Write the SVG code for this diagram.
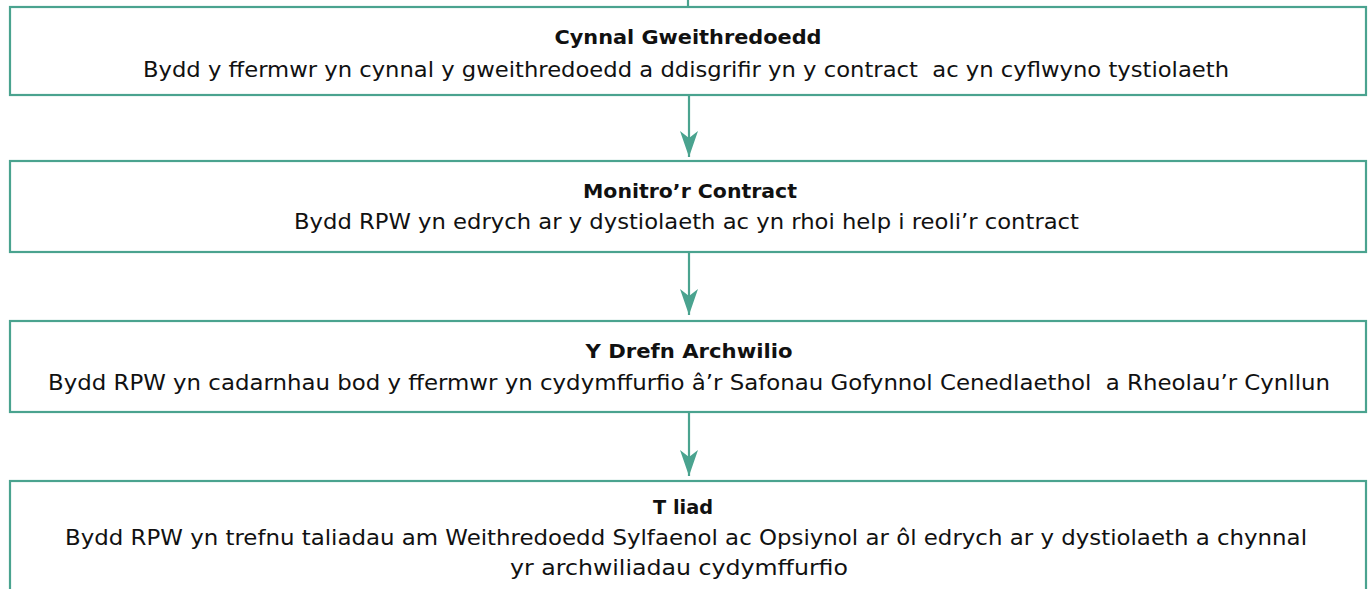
<svg xmlns="http://www.w3.org/2000/svg" width="1372" height="589" viewBox="0 0 1372 589">
  <style>
    .box { fill: #ffffff; stroke: #4aa38f; stroke-width: 2.2; }
    .conn { stroke: #4aa38f; stroke-width: 2.2; fill: none; }
    .title { font-family: "DejaVu Sans", "Liberation Sans", sans-serif; font-weight: bold; font-size: 20px; fill: #111111; text-anchor: middle; }
    .body { font-family: "DejaVu Sans", "Liberation Sans", sans-serif; font-size: 22px; fill: #111111; text-anchor: middle; white-space: pre; }
  </style>
  <defs>
    <marker id="arrow" markerUnits="userSpaceOnUse" viewBox="0 0 26 18" markerWidth="26" markerHeight="18" refX="26" refY="9" orient="auto">
      <path d="M0,0 L26,9 L0,18 L7,9 Z" fill="#4aa38f"/>
    </marker>
  </defs>
  <rect width="1372" height="589" fill="#ffffff"/>
  <g id="connectors">
    <line class="conn" x1="688" y1="0" x2="688" y2="7"/>
    <line class="conn" x1="689" y1="96" x2="689" y2="157" marker-end="url(#arrow)"/>
    <line class="conn" x1="689" y1="253" x2="689" y2="315" marker-end="url(#arrow)"/>
    <line class="conn" x1="689" y1="413" x2="689" y2="476" marker-end="url(#arrow)"/>
  </g>
  <g id="node1">
    <rect class="box" x="10" y="7" width="1356" height="88"/>
    <text class="title" x="688" y="44" textLength="267" lengthAdjust="spacingAndGlyphs">Cynnal Gweithredoedd</text>
    <text class="body" x="686" y="77" textLength="1086" lengthAdjust="spacingAndGlyphs" xml:space="preserve">Bydd y ffermwr yn cynnal y gweithredoedd a ddisgrifir yn y contract  ac yn cyflwyno tystiolaeth</text>
  </g>
  <g id="node2">
    <rect class="box" x="10" y="161" width="1356" height="91"/>
    <text class="title" x="690" y="198" textLength="214" lengthAdjust="spacingAndGlyphs">Monitro’r Contract</text>
    <text class="body" x="686.5" y="229" textLength="785" lengthAdjust="spacingAndGlyphs">Bydd RPW yn edrych ar y dystiolaeth ac yn rhoi help i reoli’r contract</text>
  </g>
  <g id="node3">
    <rect class="box" x="10" y="321" width="1356" height="91"/>
    <text class="title" x="689" y="358" textLength="207" lengthAdjust="spacingAndGlyphs">Y Drefn Archwilio</text>
    <text class="body" x="689" y="390" textLength="1282" lengthAdjust="spacingAndGlyphs" xml:space="preserve">Bydd RPW yn cadarnhau bod y ffermwr yn cydymffurfio â’r Safonau Gofynnol Cenedlaethol  a Rheolau’r Cynllun</text>
  </g>
  <g id="node4">
    <rect class="box" x="10" y="481" width="1356" height="130"/>
    <text class="title" x="683" y="514" textLength="60" lengthAdjust="spacingAndGlyphs">T liad</text>
    <text class="body" x="686" y="545" textLength="1242" lengthAdjust="spacingAndGlyphs">Bydd RPW yn trefnu taliadau am Weithredoedd Sylfaenol ac Opsiynol ar ôl edrych ar y dystiolaeth a chynnal</text>
    <text class="body" x="679" y="575" textLength="338" lengthAdjust="spacingAndGlyphs">yr archwiliadau cydymffurfio</text>
  </g>
</svg>
